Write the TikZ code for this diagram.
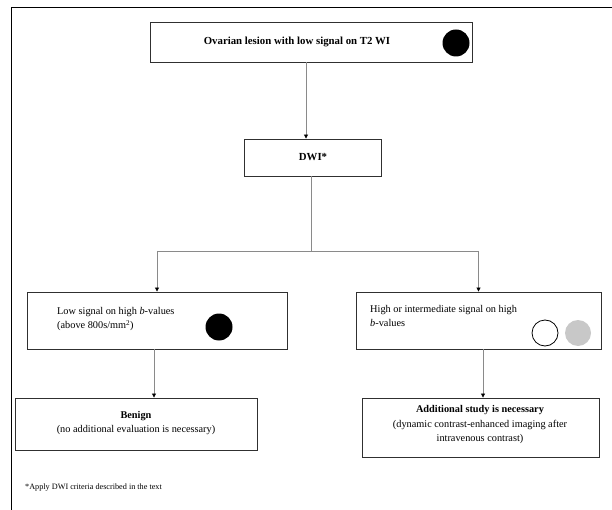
\documentclass[tikz,border=0pt]{standalone}
\usepackage{fontspec}
\setmainfont{Liberation Serif}
\usetikzlibrary{arrows.meta}
\definecolor{linegrey}{HTML}{8A8A8A}
\definecolor{dotgrey}{HTML}{C8C8C8}
\definecolor{boxline}{HTML}{303030}
\tikzset{
  box/.style={draw=boxline, line width=0.9pt, rectangle, inner sep=0pt},
  conn/.style={draw=linegrey, line width=0.8pt},
  arr/.style={conn, -{Triangle[length=4pt,width=4pt,fill=black,color=black]}},
  txt/.style={inner sep=0pt, font=\fontsize{10.3}{14.5}\selectfont},
  btxt/.style={inner sep=0pt, font=\fontsize{10.8}{14.5}\selectfont\bfseries},
  dot/.style={circle, inner sep=0pt, minimum size=27pt},
}
\begin{document}
\begin{tikzpicture}[x=1pt,y=-1pt]
\useasboundingbox (0,0) rectangle (612,510);
% frame
\draw[line width=1pt, black] (11,510) -- (11,8) -- (612,8);
% top box
\node[box, minimum width=322pt, minimum height=40pt] (top) at (311,42) {};
\node[btxt] (toptxt) at (297,42) {Ovarian lesion with low signal on T2 WI};
\node[dot, fill=black] (topdot) at (456,43) {};
% DWI box
\node[box, minimum width=137pt, minimum height=37pt] (dwi) at (312.5,157.5) {};
\node[btxt] (dwitxt) at (313,157) {DWI*};
% left box
\node[box, minimum width=260pt, minimum height=57pt] (lft) at (157,320.5) {};
\node[txt, align=left, anchor=west] (lfttxt) at (57,319) {Low signal on high \textit{b}-values\\(above 800s/mm\textsuperscript{2})};
\node[dot, fill=black] (lftdot) at (219,327) {};
% right box
\node[box, minimum width=245pt, minimum height=57pt] (rgt) at (478.5,320.5) {};
\node[txt, align=left, anchor=west] (rgttxt) at (370,316) {High or intermediate signal on high\\\textit{b}-values};
\node[dot, draw=black, line width=0.8pt, fill=white, minimum size=26pt] (rgtdot1) at (545,333) {};
\node[dot, fill=dotgrey, minimum size=26pt] (rgtdot2) at (578,333) {};
% benign box
\node[box, minimum width=242pt, minimum height=52pt] (ben) at (136,424) {};
\node[txt, align=center] (bentxt) at (136,423) {\textbf{Benign}\\(no additional evaluation is necessary)};
% additional box
\node[box, minimum width=237pt, minimum height=59pt] (add) at (480.5,427.5) {};
\node[txt, align=center] (addtxt) at (480,425) {\textbf{Additional study is necessary}\\(dynamic contrast-enhanced imaging after\\intravenous contrast)};
% footnote
\node[inner sep=0pt, anchor=west, font=\fontsize{8.2}{9}\selectfont] (foot) at (25,488) {*Apply DWI criteria described in the text};
% connectors
\coordinate (split) at (311,251);
\draw[arr] (top.south -| 306,0) -- (dwi.north -| 306,0);
\draw[conn] (dwi.south -| split) -- (split);
\draw[conn] (split) -- (split -| lft.north);
\draw[conn] (split) -- (split -| rgt.north);
\draw[arr] (split -| lft.north) -- (lft.north);
\draw[arr] (split -| rgt.north) -- (rgt.north);
\draw[arr] (lft.south -| 154,0) -- (ben.north -| 154,0);
\draw[arr] (rgt.south -| 483,0) -- (add.north -| 483,0);
\end{tikzpicture}
\end{document}
